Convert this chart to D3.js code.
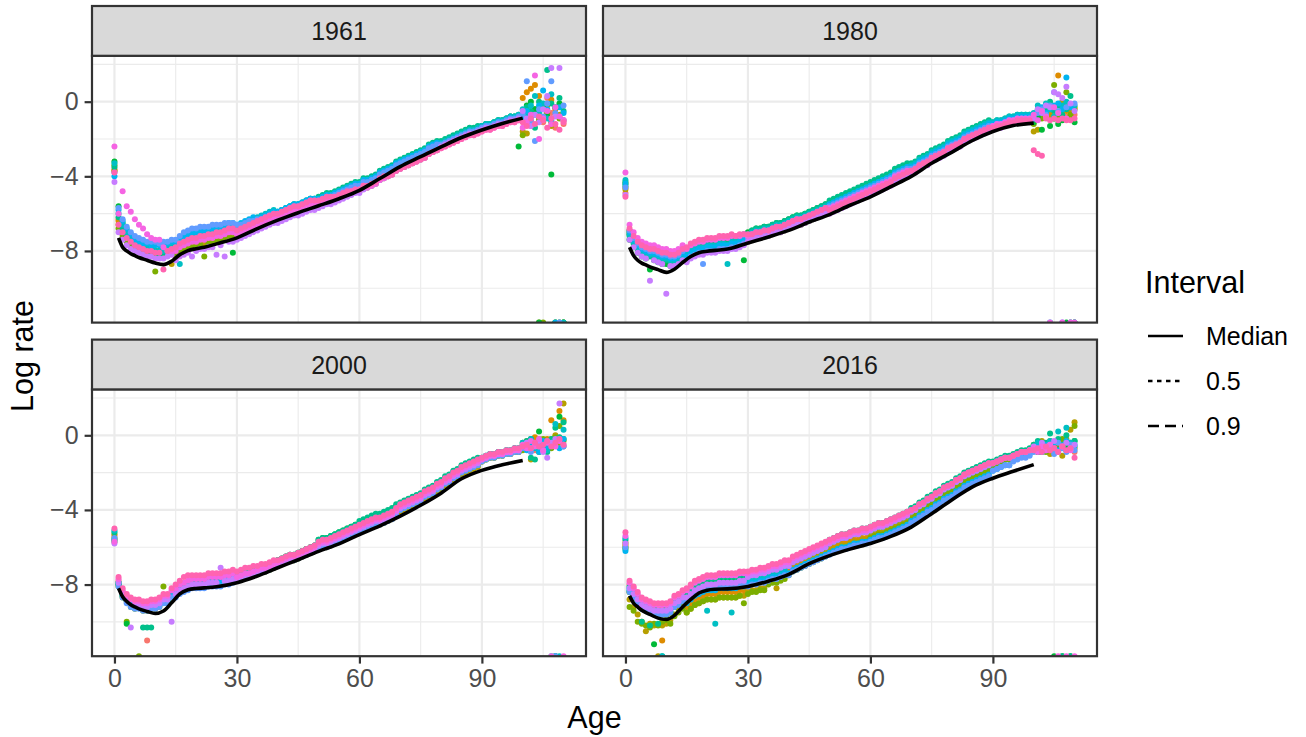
<!DOCTYPE html>
<html>
<head>
<meta charset="utf-8">
<script src="https://cdn.jsdelivr.net/npm/d3@7"></script>
<style>
  body { margin: 0; background: #fff; }
  svg text { font-family: "Liberation Sans", Arial, Helvetica, sans-serif; }
</style>
</head>
<body>
<svg id="chart"></svg>
<script>
// facets, ticks, legend
const years = ["1961", "1980", "2000", "2016"];
const ageTicks = [0, 30, 60, 90];
const rateTicks = [0, -4, -8];
const intervalLabels = ["Median", "0.5", "0.9"];

// median log rate at these ages
const medianAges = [1,2,3,4,5,6,8,10,12,14,16,18,20,22,25,30,35,40,45,50,55,60,65,70,75,80,85,90,95,100];
const median1961 = [-7.3,-7.8,-8.0,-8.15,-8.25,-8.35,-8.5,-8.65,-8.73,-8.55,-8.2,-7.98,-7.88,-7.8,-7.62,-7.3,-6.8,-6.35,-5.95,-5.58,-5.2,-4.75,-4.12,-3.48,-2.95,-2.42,-1.92,-1.52,-1.17,-0.88];
const median1980 = [-7.8,-8.25,-8.5,-8.65,-8.75,-8.85,-9.0,-9.15,-8.98,-8.62,-8.3,-8.1,-8.02,-7.97,-7.9,-7.57,-7.25,-6.9,-6.45,-6.05,-5.55,-5.1,-4.55,-4.0,-3.3,-2.7,-2.08,-1.6,-1.28,-1.15];
const median2000 = [-8.2,-8.65,-8.9,-9.08,-9.2,-9.3,-9.44,-9.55,-9.42,-8.98,-8.5,-8.28,-8.21,-8.18,-8.12,-7.9,-7.54,-7.1,-6.67,-6.22,-5.82,-5.32,-4.85,-4.33,-3.75,-3.1,-2.33,-1.88,-1.58,-1.35];
const median2016 = [-8.6,-9.0,-9.2,-9.38,-9.5,-9.6,-9.8,-9.87,-9.65,-9.2,-8.8,-8.45,-8.3,-8.25,-8.23,-8.1,-7.82,-7.45,-6.88,-6.45,-6.1,-5.8,-5.42,-4.92,-4.2,-3.45,-2.76,-2.3,-1.93,-1.57];

// observed log rates, one string per population (12), ages 0..110,
// in tenths of a log unit; "|" only groups ages, "x" = zero rate (-Inf, sits on the panel edge)
const rates1961 = [
"-36 | -63 -68 -72 -74 -76 -77 -78 -79 -79 -80 -80 -80 -79 -78 | -80 -78 -77 -76 -75 -75 -74 -74 -73 -73 -72 -72 -71 -70 -70 | -71 -70 -69 -68 -67 -66 -65 -64 -63 -62 -62 -61 -60 -59 -58 -58 -57 -56 -55 -55 | -54 -53 -52 -52 -51 -50 -49 -48 -47 -46 -46 -44 | -44 -43 -42 -40 -39 -38 -37 -35 -34 -33 -32 -31 -30 -29 -28 -26 -25 -24 | -24 -23 -22 -21 -20 -19 -18 -17 -17 -16 -15 -14 -14 -13 -12 -12 -11 -10 -10 -9 | -10 -7 -13 -5 -9 -11 2 -6 -14 -8 -12",
"-37 | -64 -69 -73 -75 -77 -78 -79 -80 -80 -81 -81 -81 -80 -79 | -81 -79 -78 -77 -76 -76 -75 -75 -74 -74 -73 -73 -72 -71 -71 | -71 -70 -69 -68 -67 -66 -65 -64 -63 -62 -62 -61 -60 -59 -58 -58 -57 -56 -55 -55 | -55 -54 -53 -53 -52 -51 -50 -49 -48 -47 -47 -45 | -45 -44 -43 -41 -40 -39 -38 -36 -35 -34 -33 -32 -31 -30 -29 -27 -26 -25 | -24 -23 -22 -21 -20 -19 -18 -17 -17 -16 -15 -14 -14 -13 -12 -12 -11 -10 -10 -9 | 2 5 7 9 3 -2 -6 1 -4 x x",
"-37 | -66 -71 -74 -76 -78 -79 -80 -81 -81 -82 -82 -82 -81 -87 | -82 -80 -79 -78 -77 -77 -76 -76 -75 -75 -74 -74 -73 -72 -72 | -72 -71 -70 -69 -68 -67 -66 -65 -64 -63 -63 -62 -61 -60 -59 -59 -58 -57 -56 -56 | -55 -54 -53 -53 -52 -51 -50 -49 -48 -47 -47 -45 | -45 -44 -43 -41 -40 -39 -38 -36 -35 -34 -33 -32 -31 -30 -29 -27 -26 -25 | -24 -23 -22 -21 -20 -19 -18 -17 -17 -16 -15 -14 -14 -13 -12 -12 -11 -10 -10 -9 | -16 -17 -11 -6 x -9 -2 -13 x -7 -10",
"-34 | -68 -72 -75 -77 -79 -80 -81 -82 -82 -91 -83 -83 -82 -81 | -83 -81 -80 -79 -78 -78 -77 -83 -76 -76 -75 -75 -74 -73 -73 | -73 -72 -71 -70 -69 -68 -67 -66 -65 -64 -64 -63 -62 -61 -60 -60 -59 -58 -57 -57 | -56 -55 -54 -54 -53 -52 -51 -50 -49 -48 -48 -46 | -46 -45 -44 -42 -41 -40 -39 -37 -36 -35 -34 -33 -32 -31 -30 -28 -27 -26 | -24 -23 -22 -21 -20 -19 -18 -17 -17 -16 -15 -14 -14 -13 -12 -12 -11 -10 -10 -9 | -18 -12 -8 -4 -10 x -6 -11 -3 -9 x",
"-32 | -56 -65 -69 -72 -75 -76 -77 -78 -79 -80 -80 -79 -79 -78 | -79 -77 -76 -75 -74 -74 -73 -73 -72 -72 -71 -71 -70 -69 -81 | -69 -68 -67 -66 -65 -64 -63 -62 -61 -60 -60 -59 -58 -57 -56 -56 -55 -54 -53 -53 | -52 -51 -50 -50 -49 -48 -47 -46 -45 -44 -44 -42 | -42 -41 -40 -38 -37 -36 -35 -33 -32 -31 -30 -29 -28 -27 -26 -24 -23 -22 | -22 -21 -20 -19 -18 -17 -16 -15 -15 -14 -13 -12 -12 -11 -10 -10 -9 -8 -8 -24 | -6 -2 0 -4 x -3 -8 -39 x -1 x",
"-35 | -62 -68 -72 -75 -77 -79 -80 -80 -81 -81 -82 -81 -80 -79 | -79 -77 -76 -75 -74 -74 -73 -73 -72 -72 -71 -71 -70 -69 -69 | -68 -67 -66 -65 -64 -63 -62 -61 -60 -59 -59 -58 -57 -56 -55 -55 -54 -53 -52 -52 | -51 -50 -49 -49 -48 -47 -46 -45 -44 -43 -43 -41 | -41 -40 -39 -37 -36 -35 -34 -32 -31 -30 -29 -28 -27 -26 -25 -23 -22 -21 | -21 -20 -19 -18 -17 -16 -15 -14 -14 -13 -13 -12 -12 -11 -10 -10 -9 -8 -8 -7 | -6 -3 -5 -14 0 -4 17 -1 -3 2 -5",
"-33 | -60 -66 -70 -73 -76 -77 -78 -79 -79 -80 -80 -80 -79 -78 | -77 -87 -74 -73 -72 -72 -71 -71 -70 -70 -69 -69 -68 -67 -67 | -67 -66 -65 -64 -63 -62 -61 -60 -59 -58 -59 -58 -57 -56 -55 -55 -54 -53 -52 -52 | -52 -51 -50 -50 -49 -48 -47 -46 -45 -44 -44 -42 | -42 -41 -40 -38 -37 -36 -35 -33 -32 -31 -30 -29 -28 -27 -26 -24 -23 -22 | -22 -21 -20 -19 -18 -17 -16 -15 -15 -14 -13 -12 -12 -11 -10 -10 -9 -8 -8 -7 | -4 -8 -2 3 -6 -1 -9 4 -3 x x",
"-40 | -58 -64 -68 -71 -74 -75 -76 -76 -77 -77 -77 -77 -76 -75 | -75 -73 -72 -71 -70 -70 -69 -69 -68 -68 -67 -67 -66 -65 -65 | -66 -65 -64 -63 -62 -63 -62 -61 -60 -59 -59 -58 -57 -56 -55 -55 -54 -53 -52 -52 | -52 -51 -50 -50 -49 -48 -47 -46 -45 -44 -44 -42 | -42 -41 -40 -38 -37 -36 -35 -33 -32 -31 -30 -29 -28 -27 -26 -24 -23 -22 | -23 -22 -21 -20 -19 -18 -17 -16 -16 -15 -14 -13 -13 -12 -11 -11 -10 -9 -9 -8 | -9 -5 -12 -7 -2 6 -4 -10 x -3 -6",
"-38 | -57 -63 -67 -70 -72 -73 -74 -75 -75 -75 -76 -75 -75 -74 | -74 -72 -70 -69 -68 -68 -67 -67 -67 -66 -66 -66 -65 -65 -65 | -66 -66 -65 -64 -64 -63 -63 -62 -61 -60 -60 -59 -58 -57 -56 -56 -55 -54 -53 -53 | -53 -52 -51 -51 -50 -49 -48 -47 -46 -45 -45 -43 | -43 -42 -41 -39 -38 -37 -36 -34 -33 -32 -31 -30 -29 -28 -27 -25 -24 -23 | -23 -22 -21 -20 -19 -18 -17 -16 -16 -15 -14 -13 -13 -12 -11 -11 -10 -9 -9 -8 | -7 11 -10 -21 -4 -8 -1 11 -6 x -2",
"-43 | -70 -74 -77 -79 -80 -81 -82 -83 -83 -84 -84 -84 -83 -82 | -85 -83 -82 -81 -83 -80 -79 -79 -78 -78 -82 -77 -83 -75 -75 | -74 -73 -72 -71 -70 -69 -68 -67 -66 -65 -65 -64 -63 -62 -61 -61 -60 -59 -58 -58 | -57 -56 -55 -55 -54 -53 -52 -51 -50 -49 -49 -47 | -46 -45 -44 -42 -41 -40 -39 -37 -36 -35 -34 -33 -32 -31 -30 -28 -27 -26 | -24 -23 -22 -21 -20 -19 -18 -17 -17 -16 -15 -14 -14 -13 -12 -12 -11 -10 -10 -9 | -5 -9 -13 -7 -11 -4 3 18 -8 18 -10",
"-24 | -60 -48 -56 -59 -63 -66 -68 -71 -73 -74 -74 -78 -80 -80 | -80 -78 -77 -76 -75 -75 -74 -74 -73 -73 -72 -72 -71 -70 -70 | -71 -70 -69 -68 -67 -66 -65 -64 -63 -62 -62 -61 -60 -59 -58 -58 -57 -56 -55 -55 | -55 -54 -53 -53 -52 -51 -50 -49 -48 -47 -47 -45 | -46 -45 -44 -42 -41 -40 -39 -37 -36 -35 -34 -33 -32 -31 -30 -28 -27 -26 | -25 -24 -23 -22 -21 -20 -19 -18 -18 -17 -16 -15 -15 -14 -13 -13 -12 -11 -11 -10 | -14 -11 -7 14 -20 -9 -5 -12 -3 -8 -10",
"-38 | -66 -70 -73 -75 -77 -78 -79 -80 -80 -81 -81 -90 -80 -79 | -78 -76 -75 -74 -73 -73 -72 -72 -71 -71 -70 -70 -69 -68 -68 | -69 -68 -67 -66 -65 -64 -63 -62 -61 -60 -60 -59 -58 -57 -56 -56 -55 -54 -53 -53 | -53 -52 -51 -51 -51 -50 -49 -48 -48 -47 -47 -45 | -45 -44 -43 -41 -40 -40 -39 -37 -36 -35 -34 -33 -32 -31 -30 -28 -27 -26 | -25 -24 -23 -22 -21 -20 -19 -18 -18 -17 -16 -15 -15 -14 -13 -13 -12 -11 -11 -10 | -11 -13 -9 -12 -8 -10 -14 -9 -12 -15 -11"
];

const rates1980 = [
"-49 | -69 -73 -75 -78 -78 -80 -79 -81 -81 -82 -82 -83 -81 -80 | -82 -80 -79 -78 -78 -77 -77 -77 -76 -76 -76 -75 -75 -74 -73 | -73 -72 -71 -71 -70 -70 -69 -68 -68 -67 -66 -65 -64 -64 -63 -62 -61 -60 -59 -58 | -57 -56 -55 -54 -53 -52 -51 -50 -49 -48 -47 -46 -45 -44 -43 -42 -40 -39 -38 -37 | -36 -35 -33 -32 -31 -29 -28 -27 -26 -24 -23 -22 -21 -19 -18 -17 -16 -15 -14 -13 | -13 -12 -12 -11 -10 -10 -9 -9 -9 -9 | -10 -6 -8 -5 -7 -9 -6 -4 -8 -5 -7",
"-46 | -69 -73 -76 -78 -79 -80 -80 -81 -82 -82 -83 -83 -82 -80 | -83 -81 -80 -79 -79 -78 -78 -78 -77 -77 -77 -76 -76 -75 -74 | -73 -72 -71 -71 -70 -70 -69 -68 -68 -67 -66 -65 -64 -64 -63 -62 -61 -60 -59 -58 | -58 -57 -56 -55 -54 -53 -52 -51 -50 -49 -48 -47 -46 -45 -44 -43 -41 -40 -39 -38 | -37 -36 -34 -33 -32 -30 -29 -28 -27 -25 -24 -23 -22 -20 -19 -18 -17 -16 -15 -14 | -13 -12 -12 -11 -10 -10 -9 -9 -9 -9 | -8 -5 -7 -3 -6 -4 14 -2 -5 -8 x",
"-47 | -70 -74 -77 -79 -80 -81 -81 -82 -83 -83 -84 -84 -83 -81 | -84 -82 -81 -80 -80 -79 -79 -79 -78 -78 -78 -77 -77 -76 -75 | -74 -73 -72 -72 -71 -71 -70 -69 -69 -68 -67 -66 -65 -65 -64 -63 -62 -61 -60 -59 | -59 -58 -57 -56 -55 -54 -53 -52 -51 -50 -49 -48 -47 -46 -45 -44 -42 -41 -40 -39 | -38 -37 -35 -34 -33 -31 -30 -29 -28 -26 -25 -24 -23 -21 -20 -19 -18 -17 -16 -15 | -14 -13 -13 -12 -11 -11 -10 -10 -10 -10 | -16 -15 -5 -3 -8 -4 -6 0 -2 -5 -3",
"-44 | -71 -75 -78 -80 -81 -82 -82 -83 -84 -84 -85 -85 -84 -82 | -85 -83 -82 -81 -81 -80 -80 -80 -79 -79 -79 -78 -78 -77 -76 | -75 -74 -73 -73 -72 -72 -71 -70 -70 -69 -68 -67 -66 -66 -65 -64 -63 -62 -61 -60 | -59 -58 -57 -56 -55 -54 -53 -52 -51 -50 -49 -48 -47 -46 -45 -44 -42 -41 -40 -39 | -38 -37 -35 -34 -33 -31 -30 -29 -28 -26 -25 -24 -23 -21 -20 -19 -18 -17 -16 -15 | -14 -13 -13 -12 -11 -11 -10 -10 -10 -10 | -12 -5 -9 -4 -2 9 -8 -3 5 -7 -4",
"-43 | -74 -78 -81 -83 -84 -90 -85 -86 -87 -87 -88 -88 -87 -85 | -80 -78 -77 -76 -76 -75 -75 -75 -74 -74 -74 -73 -73 -72 -85 | -70 -69 -68 -68 -67 -67 -66 -65 -65 -64 -63 -62 -61 -61 -60 -59 -58 -57 -56 -55 | -54 -53 -52 -51 -50 -49 -48 -47 -46 -45 -44 -43 -42 -41 -40 -39 -37 -36 -35 -34 | -35 -34 -32 -31 -30 -28 -27 -26 -25 -23 -22 -21 -20 -18 -17 -16 -15 -14 -13 -12 | -12 -11 -11 -10 -9 -9 -8 -8 -8 -8 | -11 -8 -15 -6 -13 -9 -12 -10 x x -11",
"-45 | -72 -76 -79 -81 -82 -83 -83 -84 -85 -85 -86 -86 -85 -83 | -82 -80 -79 -78 -78 -77 -77 -77 -76 -76 -76 -75 -74 -73 -71 | -71 -69 -68 -68 -67 -67 -66 -65 -65 -64 -63 -62 -61 -61 -60 -59 -58 -57 -56 -55 | -53 -52 -51 -50 -49 -48 -47 -46 -45 -44 -43 -42 -41 -40 -39 -38 -36 -35 -34 -33 | -33 -32 -30 -29 -28 -26 -25 -24 -23 -21 -20 -19 -18 -16 -15 -14 -13 -12 -11 -10 | -11 -10 -10 -9 -8 -8 -7 -7 -7 -7 | -8 -4 -6 -3 0 -5 -2 -7 -4 3 x",
"-42 | -71 -75 -78 -80 -81 -82 -82 -83 -84 -84 -85 -85 -84 -82 | -82 -80 -79 -78 -78 -77 -77 -77 -76 -76 -87 -75 -75 -74 -73 | -71 -70 -69 -69 -68 -68 -67 -66 -66 -65 -64 -63 -62 -62 -61 -60 -59 -58 -57 -56 | -55 -54 -53 -52 -51 -50 -49 -48 -47 -46 -45 -44 -43 -42 -41 -40 -38 -37 -36 -35 | -34 -33 -31 -30 -29 -27 -26 -25 -24 -22 -21 -20 -19 -17 -16 -15 -14 -13 -12 -11 | -11 -10 -10 -9 -8 -8 -7 -7 -7 -7 | -6 -2 -5 -1 -4 -8 -6 -2 0 -3 -2",
"-44 | -70 -74 -77 -79 -80 -81 -81 -82 -83 -83 -84 -84 -83 -81 | -83 -81 -80 -79 -79 -78 -78 -78 -77 -77 -77 -76 -76 -75 -74 | -72 -71 -70 -70 -69 -69 -68 -67 -67 -66 -65 -64 -63 -63 -62 -61 -60 -59 -58 -57 | -55 -54 -53 -52 -51 -50 -49 -48 -47 -46 -45 -44 -43 -42 -41 -40 -38 -37 -36 -35 | -35 -34 -32 -31 -30 -28 -27 -26 -25 -23 -22 -21 -20 -18 -17 -16 -15 -14 -13 -12 | -12 -11 -11 -10 -9 -9 -8 -8 -8 -8 | -7 -5 -3 -6 x -2 -1 -4 13 -3 x",
"-46 | -69 -73 -76 -78 -79 -80 -80 -81 -82 -82 -83 -83 -82 -80 | -85 -83 -82 -81 -87 -80 -80 -80 -79 -79 -79 -78 -78 -77 -76 | -73 -72 -71 -71 -70 -70 -69 -68 -68 -67 -66 -65 -64 -64 -63 -62 -61 -60 -59 -58 | -56 -55 -54 -53 -52 -51 -50 -49 -48 -47 -46 -45 -44 -43 -42 -41 -39 -38 -37 -36 | -36 -35 -33 -32 -31 -29 -28 -27 -26 -24 -23 -22 -21 -19 -18 -17 -16 -15 -14 -13 | -13 -12 -12 -11 -10 -10 -9 -9 -9 -9 | -9 -6 -4 -7 -2 5 -5 x -3 x -1",
"-50 | -74 -78 -81 -83 -84 -96 -85 -86 -87 -103 -88 -88 -87 -85 | -86 -84 -83 -82 -82 -81 -81 -81 -80 -80 -80 -79 -79 -78 -77 | -75 -74 -73 -73 -72 -72 -71 -70 -70 -69 -68 -67 -66 -66 -65 -64 -63 -62 -61 -60 | -60 -59 -58 -57 -56 -55 -54 -53 -52 -51 -50 -49 -48 -47 -46 -45 -43 -42 -41 -40 | -39 -38 -36 -35 -34 -32 -31 -30 -29 -27 -26 -25 -24 -22 -21 -20 -19 -18 -17 -16 | -15 -14 -14 -13 -12 -12 -11 -11 -11 -11 | -9 -4 -6 -2 -3 5 4 2 8 -1 -5",
"-38 | -66 -70 -73 -75 -76 -77 -77 -78 -79 -79 -80 -80 -79 -77 | -79 -77 -76 -75 -75 -74 -74 -74 -73 -73 -73 -72 -72 -72 -71 | -72 -71 -70 -70 -69 -69 -68 -67 -67 -66 -65 -64 -63 -63 -62 -61 -60 -59 -58 -57 | -57 -56 -55 -54 -53 -52 -51 -50 -49 -48 -47 -46 -45 -44 -43 -42 -40 -39 -38 -37 | -37 -36 -34 -33 -32 -30 -29 -28 -27 -25 -24 -23 -22 -20 -19 -18 -17 -16 -15 -14 | -13 -12 -12 -11 -10 -10 -9 -9 -9 -9 | -7 -10 -5 -8 x -3 -6 x -9 x x",
"-51 | -68 -72 -75 -77 -78 -79 -79 -80 -81 -81 -82 -82 -81 -79 | -78 -76 -75 -74 -74 -73 -73 -73 -72 -72 -72 -71 -72 -71 -71 | -71 -71 -70 -70 -69 -69 -68 -67 -67 -66 -65 -64 -63 -63 -62 -61 -60 -59 -58 -57 | -58 -57 -56 -55 -54 -53 -52 -51 -50 -49 -48 -47 -46 -45 -44 -43 -41 -40 -39 -38 | -37 -36 -34 -33 -32 -30 -29 -28 -27 -25 -24 -23 -22 -20 -19 -18 -17 -16 -15 -14 | -14 -13 -13 -12 -11 -11 -10 -10 -10 -10 | -26 -28 -29 -9 -10 -9 -10 -9 -10 -10 -9"
];

const rates2000 = [
"-54 | -78 -84 -87 -89 -90 -90 -91 -110 -90 -90 -89 -87 -87 -84 | -84 -82 -81 -80 -79 -79 -79 -79 -78 -78 -78 -78 -77 -77 -76 | -76 -75 -74 -74 -73 -72 -71 -71 -70 -69 -68 -67 -66 -65 -65 -64 -63 -62 -61 -60 | -58 -57 -57 -56 -55 -54 -53 -52 -51 -50 -49 -48 -47 -46 -45 -45 -44 -43 -42 -40 | -38 -37 -36 -35 -34 -33 -31 -30 -29 -27 -26 -24 -23 -21 -20 -18 -17 -16 -15 -14 | -13 -12 -11 -11 -10 -10 -9 -9 -8 -8 | -6 -4 -5 -8 -3 -5 -7 -2 x -4 -6",
"-56 | -79 -85 -88 -90 -91 -91 -92 -92 -91 -91 -90 -88 -88 -85 | -85 -83 -82 -81 -80 -80 -80 -80 -79 -79 -79 -79 -78 -78 -77 | -77 -76 -75 -75 -74 -73 -72 -72 -71 -70 -69 -68 -67 -66 -66 -65 -64 -63 -62 -61 | -59 -58 -58 -57 -56 -55 -54 -53 -52 -51 -50 -49 -48 -47 -46 -46 -45 -44 -43 -41 | -39 -38 -37 -36 -35 -34 -32 -31 -30 -28 -27 -25 -24 -22 -21 -19 -18 -17 -16 -15 | -13 -12 -11 -11 -10 -10 -9 -9 -8 -8 | -5 -3 -7 -1 -4 -6 -2 8 -5 13 8",
"-53 | -80 -86 -89 -91 -92 -92 -93 -93 -92 -92 -91 -89 -89 -86 | -86 -84 -83 -82 -81 -81 -81 -81 -80 -80 -80 -80 -79 -79 -78 | -78 -77 -76 -76 -75 -74 -73 -73 -72 -71 -70 -69 -68 -67 -67 -66 -65 -64 -63 -62 | -61 -60 -60 -59 -58 -57 -56 -55 -54 -53 -52 -51 -50 -49 -48 -48 -47 -46 -45 -43 | -41 -40 -39 -38 -37 -36 -34 -33 -32 -30 -29 -27 -26 -24 -23 -21 -20 -19 -18 -17 | -14 -13 -12 -12 -11 -11 -10 -10 -9 -9 | -7 -4 -13 -6 -2 -8 -3 -5 0 -4 17",
"-55 | -81 -87 -100 -92 -93 x -94 -94 -93 -93 -92 -81 -90 -87 | -86 -84 -83 -82 -81 -81 -81 -81 -80 -80 -80 -80 -79 -79 -78 | -78 -77 -76 -76 -75 -74 -73 -73 -72 -71 -70 -69 -68 -67 -67 -66 -65 -64 -63 -62 | -60 -59 -59 -58 -57 -56 -55 -54 -53 -52 -51 -50 -49 -48 -47 -47 -46 -45 -44 -42 | -40 -39 -38 -37 -36 -35 -33 -32 -31 -29 -28 -26 -25 -23 -22 -20 -19 -18 -17 -16 | -14 -13 -12 -12 -11 -11 -10 -10 -9 -9 | -8 -5 -3 -6 -9 -2 -4 -7 -1 5 -3",
"-57 | -80 -86 -101 -91 -92 -92 -93 -93 -92 -92 -91 -89 -89 -86 | -83 -81 -80 -79 -78 -78 -78 -78 -77 -77 -77 -77 -76 -76 -75 | -75 -74 -73 -73 -72 -71 -70 -70 -69 -68 -67 -66 -65 -64 -64 -63 -62 -61 -60 -59 | -56 -55 -55 -54 -53 -52 -51 -50 -49 -48 -47 -46 -45 -44 -43 -43 -42 -41 -40 -38 | -37 -36 -35 -34 -33 -32 -30 -29 -28 -26 -25 -23 -22 -20 -19 -17 -16 -15 -14 -13 | -13 -12 -11 -11 -10 -10 -9 -9 -8 -8 | -4 -7 -2 -5 2 -8 -3 -6 x 10 -2",
"-52 | -79 -85 -88 -90 -91 -91 -103 -103 -103 -91 -90 -88 -88 -85 | -83 -81 -80 -79 -78 -78 -78 -78 -77 -77 -77 -77 -76 -76 -75 | -75 -74 -73 -73 -72 -71 -70 -70 -69 -68 -67 -66 -65 -64 -64 -63 -62 -61 -60 -59 | -56 -55 -55 -54 -53 -52 -51 -50 -49 -48 -46 -45 -44 -43 -42 -42 -41 -40 -39 -37 | -36 -35 -34 -33 -32 -31 -29 -28 -27 -25 -24 -22 -21 -19 -18 -16 -15 -14 -13 -12 | -12 -11 -10 -10 -9 -9 -8 -8 -7 -7 | -5 -3 -12 -13 -6 -4 -9 -2 4 -1 7",
"-51 | -79 -85 -88 -90 -91 -91 -92 -92 -91 -91 -90 -88 -88 -85 | -84 -82 -81 -80 -79 -79 -79 -79 -78 -78 -78 -78 -77 -77 -76 | -76 -75 -74 -74 -73 -72 -71 -71 -70 -69 -68 -67 -66 -65 -65 -64 -63 -62 -61 -60 | -57 -56 -56 -55 -54 -53 -52 -51 -50 -49 -48 -47 -46 -45 -44 -44 -43 -42 -41 -39 | -37 -36 -35 -34 -33 -32 -30 -29 -28 -26 -25 -23 -22 -20 -19 -17 -16 -15 -14 -13 | -12 -11 -10 -10 -9 -9 -8 -8 -7 -7 | -4 -6 -2 -7 -3 -5 -8 x 6 x 3",
"-56 | -80 -86 -89 -91 -92 -92 -93 -93 -92 -92 -91 -89 -89 -86 | -85 -83 -82 -81 -80 -80 -80 -80 -79 -79 -79 -79 -78 -78 -77 | -77 -76 -75 -75 -74 -73 -72 -72 -71 -70 -69 -68 -67 -66 -66 -65 -64 -63 -62 -61 | -58 -57 -57 -56 -55 -54 -53 -52 -51 -50 -49 -48 -47 -46 -45 -45 -44 -43 -42 -40 | -38 -37 -36 -35 -34 -33 -31 -30 -29 -27 -26 -24 -23 -21 -20 -18 -17 -16 -15 -14 | -13 -12 -11 -11 -10 -10 -9 -9 -8 -8 | -6 -8 -4 -5 -9 -3 -6 -4 x -7 -2",
"-55 | -81 -87 -90 -92 -93 -93 -94 -94 -93 -93 -92 -90 -90 -87 | -87 -85 -84 -83 -82 -82 -82 -82 -81 -81 -81 -81 -80 -80 -79 | -78 -77 -76 -76 -75 -74 -73 -73 -72 -71 -70 -69 -68 -67 -67 -66 -65 -64 -63 -62 | -61 -60 -60 -59 -58 -57 -56 -55 -54 -53 -52 -51 -50 -49 -48 -48 -47 -46 -45 -43 | -40 -39 -38 -37 -36 -35 -33 -32 -31 -29 -28 -26 -25 -23 -22 -20 -19 -18 -17 -16 | -14 -13 -12 -12 -11 -11 -10 -10 -9 -9 | -7 -5 -9 -4 -6 -8 -3 -5 x -2 -6",
"-58 | -79 -85 -88 -103 -91 -91 -92 -92 -91 -91 -90 -88 -88 -100 | -85 -83 -82 -81 -80 -80 -80 -80 -79 -79 -79 -71 -78 -78 -77 | -77 -76 -75 -75 -74 -73 -72 -72 -71 -70 -69 -68 -67 -66 -66 -65 -64 -63 -62 -61 | -59 -58 -58 -57 -56 -55 -54 -53 -52 -51 -50 -49 -48 -47 -46 -46 -45 -44 -43 -41 | -39 -38 -37 -36 -35 -34 -32 -31 -30 -28 -27 -25 -24 -22 -21 -19 -18 -17 -16 -15 | -13 -12 -11 -11 -10 -10 -9 -9 -8 -8 | -6 -4 -7 -5 -3 -9 -12 -4 -2 17 -5",
"-57 | -77 -83 -86 -88 -89 -89 -90 -90 -89 -89 -88 -86 -86 -83 | -82 -80 -79 -78 -77 -77 -77 -77 -76 -76 -76 -76 -75 -75 -74 | -76 -75 -74 -74 -73 -72 -71 -71 -70 -69 -68 -67 -66 -65 -65 -64 -63 -62 -61 -60 | -58 -57 -57 -56 -55 -54 -53 -52 -51 -50 -49 -48 -47 -46 -45 -45 -44 -43 -42 -40 | -38 -37 -36 -35 -34 -33 -31 -30 -29 -27 -26 -24 -23 -21 -20 -18 -17 -16 -15 -14 | -13 -12 -11 -11 -10 -10 -9 -9 -8 -8 | -5 -7 -3 -6 -2 -8 -4 x -6 -3 x",
"-50 | -76 -82 -85 -87 -88 -88 -89 -89 -88 -88 -87 -85 -85 -82 | -80 -78 -76 -75 -75 -75 -75 -75 -74 -74 -74 -74 -73 -73 -72 | -73 -72 -71 -71 -70 -70 -69 -69 -68 -67 -67 -66 -65 -64 -64 -63 -62 -61 -60 -59 | -57 -56 -56 -55 -54 -53 -52 -51 -50 -49 -48 -47 -46 -45 -44 -44 -43 -42 -41 -39 | -37 -36 -35 -34 -33 -32 -30 -29 -28 -26 -25 -23 -22 -20 -19 -17 -16 -15 -14 -13 | -12 -11 -10 -10 -9 -9 -8 -8 -7 -7 | -6 -5 -7 -4 -6 -5 -3 -6 -4 -2 -5"
];

const rates2016 = [
"-57 | -80 -83 -86 -89 -90 -91 -92 -92 -92 -92 -91 -88 -87 -85 | -86 -84 -82 -81 -80 -79 -79 -79 -78 -78 -78 -78 -78 -77 -77 | -76 -75 -75 -74 -74 -73 -72 -72 -71 -70 -70 -68 -67 -66 -65 -64 -63 -62 -61 -60 | -58 -57 -56 -55 -55 -54 -53 -53 -52 -52 -51 -50 -49 -49 -48 -47 -46 -45 -44 -43 | -41 -40 -38 -37 -35 -34 -32 -31 -29 -28 -27 -25 -24 -22 -21 -20 -19 -18 -17 -16 | -15 -14 -13 -12 -12 -11 -10 -9 -9 -8 | -7 -5 -8 -6 -9 -4 -7 -5 -8 -6 -9",
"-59 | -84 -87 -90 -93 -94 -95 -96 -96 -110 -96 -95 -92 -91 -89 | -92 -90 -88 -87 -86 -85 -85 -85 -84 -84 -84 -84 -84 -83 -83 | -81 -80 -80 -79 -79 -78 -77 -77 -76 -75 -73 -71 -70 -69 -68 -67 -66 -65 -64 -63 | -61 -60 -59 -58 -58 -57 -56 -56 -55 -55 -54 -53 -52 -52 -51 -50 -49 -48 -47 -46 | -44 -43 -40 -39 -37 -36 -34 -33 -31 -30 -29 -27 -26 -24 -23 -22 -21 -20 -19 -18 | -16 -15 -14 -13 -13 -12 -11 -10 -10 -9 | -6 -8 -5 -7 -4 -9 -6 -3 -8 -5 -7",
"-58 | -88 -92 -96 -100 -105 -101 -102 x -102 -101 -99 -96 -93 -91 | -95 -93 -91 -90 -89 -88 -88 -88 -87 -87 -87 -87 -87 -86 -86 | -84 -83 -83 -82 -82 -79 -78 -82 -77 -76 -74 -72 -71 -70 -69 -67 -66 -65 -64 -63 | -62 -61 -60 -59 -59 -58 -57 -57 -56 -56 -54 -53 -52 -52 -51 -50 -49 -48 -47 -46 | -44 -43 -41 -40 -38 -37 -35 -34 -32 -31 -30 -28 -27 -25 -24 -23 -22 -21 -20 -19 | -16 -15 -14 -13 -13 -12 -11 -10 -10 -9 | -5 -9 -3 -7 -10 -6 -4 -11 -2 3 7",
"-60 | -92 -94 -100 -101 -102 -103 -101 -102 -100 -99 -101 -97 -95 -93 | -95 -93 -91 -90 -89 -88 -88 -88 -87 -87 -87 -87 -87 -86 -90 | -85 -84 -84 -83 -83 -80 -79 -79 -78 -77 -75 -73 -72 -71 -70 -69 -68 -67 -66 -65 | -63 -62 -61 -60 -60 -59 -58 -58 -57 -57 -55 -54 -53 -53 -52 -51 -50 -49 -48 -47 | -45 -43 -41 -40 -38 -37 -35 -34 -32 -31 -30 -28 -27 -25 -24 -23 -22 -21 -20 -19 | -16 -15 -14 -13 -13 -12 -11 -10 -10 -9 | -8 -4 -6 -9 -3 -7 -5 -2 -6 -4 5",
"-61 | -84 -87 -90 -93 -94 -95 -112 -96 -96 -96 -95 -92 -91 -89 | -85 -83 -81 -80 -79 -78 -78 -78 -77 -77 -77 -77 -77 -76 -76 | -75 -74 -74 -73 -73 -72 -71 -71 -70 -69 -69 -67 -66 -65 -64 -63 -62 -61 -60 -59 | -57 -56 -55 -54 -54 -53 -52 -52 -51 -51 -50 -49 -48 -48 -47 -46 -45 -44 -43 -42 | -40 -39 -37 -36 -34 -33 -31 -30 -28 -27 -26 -24 -23 -21 -20 -19 -18 -17 -16 -15 | -15 -14 -13 -12 -12 -11 -10 -9 -9 -8 | -6 -9 -4 -7 -5 x -8 x -6 x -3",
"-56 | -81 -84 -87 -100 -91 -102 -93 -101 x -93 -92 -89 -88 -86 | -84 -82 -80 -79 -78 -77 -77 -77 -76 -76 -76 -76 -76 -75 -75 | -74 -73 -73 -72 -72 -71 -70 -70 -69 -68 -68 -66 -65 -64 -63 -62 -61 -60 -59 -58 | -56 -55 -54 -53 -53 -52 -51 -51 -50 -50 -49 -48 -47 -47 -46 -45 -44 -43 -42 -41 | -39 -38 -36 -35 -33 -32 -30 -29 -27 -26 -25 -23 -22 -20 -19 -18 -17 -16 -15 -14 | -14 -13 -12 -11 -11 -10 -9 -8 -8 -7 | -5 -3 -6 -4 1 -7 -2 x 0 x -3",
"-55 | -82 -85 -88 -91 -92 -93 -94 -94 x -94 -93 -90 -89 -87 | -88 -86 -84 -83 -82 -94 -81 -101 -80 -80 -80 -95 -80 -79 -79 | -78 -77 -77 -76 -76 -75 -74 -74 -73 -72 -70 -68 -67 -66 -65 -64 -63 -62 -61 -60 | -58 -57 -56 -55 -55 -54 -53 -53 -52 -52 -51 -50 -49 -49 -48 -47 -46 -45 -44 -43 | -41 -40 -38 -37 -35 -34 -32 -31 -29 -28 -27 -25 -24 -22 -21 -20 -19 -18 -17 -16 | -15 -14 -13 -12 -12 -11 -10 -9 -9 -8 | -7 -4 -9 -6 -3 -8 2 -5 4 -4 -6",
"-62 | -83 -86 -89 -92 -93 -94 -95 -95 -95 -95 -94 -91 -90 -88 | -90 -88 -86 -85 -84 -83 -83 -83 -82 -82 -82 -82 -82 -81 -81 | -80 -79 -79 -78 -78 -77 -76 -76 -75 -74 -74 -72 -71 -70 -69 -68 -67 -66 -65 -64 | -63 -62 -61 -60 -60 -59 -58 -58 -57 -57 -56 -55 -54 -54 -53 -52 -51 -50 -49 -48 | -46 -45 -43 -42 -40 -39 -37 -36 -34 -33 -32 -30 -29 -27 -26 -25 -24 -23 -22 -21 | -19 -18 -17 -16 -16 -13 -12 -11 -11 -10 | -8 -6 -9 -5 -7 -4 -8 -6 -3 -7 -5",
"-60 | -84 -87 -90 -93 -94 -95 -96 -96 -96 -96 -95 -92 -91 -89 | -89 -87 -85 -84 -83 -82 -82 -82 -81 -81 -81 -81 -81 -80 -80 | -81 -80 -80 -79 -79 -78 -77 -77 -76 -75 -75 -73 -72 -71 -70 -69 -68 -67 -66 -65 | -64 -63 -62 -61 -61 -60 -59 -59 -58 -58 -57 -56 -55 -55 -54 -53 -52 -51 -50 -49 | -47 -46 -44 -43 -41 -40 -38 -37 -35 -34 -33 -31 -30 -28 -27 -26 -25 -24 -23 -22 | -19 -18 -17 -16 -16 -14 -13 -12 -12 -11 | -9 -7 -5 -8 -6 -10 -4 -7 -9 -5 -8",
"-58 | -82 -85 -88 -91 -92 -93 -94 -94 -94 -94 -93 -90 -89 -87 | -87 -85 -83 -82 -81 -80 -80 -80 -79 -79 -79 -79 -79 -78 -78 | -76 -75 -75 -74 -74 -73 -72 -72 -71 -70 -70 -68 -67 -66 -65 -64 -63 -62 -61 -60 | -58 -57 -56 -55 -55 -54 -53 -53 -52 -52 -51 -50 -49 -49 -48 -47 -46 -45 -44 -43 | -41 -40 -38 -37 -35 -34 -32 -31 -29 -28 -27 -25 -24 -22 -21 -20 -19 -18 -17 -16 | -15 -14 -13 -12 -12 -11 -10 -9 -9 -8 | -6 -8 -4 -7 -5 -3 -9 -6 -4 -7 -5",
"-54 | -79 -82 -85 -88 -89 -90 -91 -91 -91 -91 -90 -87 -86 -84 | -83 -81 -79 -78 -77 -76 -76 -76 -75 -75 -75 -75 -75 -74 -74 | -74 -73 -73 -72 -72 -71 -70 -70 -69 -68 -68 -66 -65 -64 -63 -62 -61 -60 -59 -58 | -57 -56 -55 -54 -54 -53 -52 -52 -51 -51 -50 -49 -48 -48 -47 -46 -45 -44 -43 -42 | -40 -39 -37 -36 -34 -33 -31 -30 -28 -27 -26 -24 -23 -21 -20 -19 -18 -17 -16 -15 | -15 -14 -13 -12 -12 -11 -10 -9 -9 -8 | -7 -9 -6 -8 -5 -7 x -6 x -8 x",
"-52 | -78 -81 -84 -87 -88 -89 -90 -90 -90 -90 -89 -86 -85 -83 | -82 -80 -78 -77 -76 -75 -75 -75 -74 -74 -74 -74 -74 -73 -73 | -73 -72 -72 -71 -71 -70 -69 -69 -68 -67 -67 -65 -64 -63 -62 -61 -60 -59 -58 -57 | -56 -55 -54 -53 -53 -52 -51 -51 -50 -50 -49 -48 -47 -47 -46 -45 -44 -43 -42 -41 | -40 -39 -37 -36 -34 -33 -31 -30 -28 -27 -26 -24 -23 -21 -20 -19 -18 -17 -16 -15 | -15 -14 -13 -12 -12 -11 -10 -9 -9 -8 | -8 -7 -9 -6 -8 -7 -9 -6 -8 -7 -12"
];

const ages = d3.range(0, 111);
const medians = [median1961, median1980, median2000, median2016];
const rates = [rates1961, rates1980, rates2000, rates2016];

// default ggplot hue palette for 12 groups
const popColour = d3.scaleOrdinal()
    .domain(d3.range(12))
    .range(["#F8766D","#DE8C00","#B79F00","#7CAE00","#00BA38","#00C08B",
            "#00BFC4","#00B4F0","#619CFF","#C77CFF","#F564E3","#FF64B0"]);

const parseRow = s => s.split(/[\s|]+/).filter(t => t.length)
    .map(t => t === "x" ? -Infinity : +t / 10);

const svg = d3.select("#chart")
    .attr("width", 1306)
    .attr("height", 737);

const colX = [92, 603], stripTop = [6, 339.6];
const panelW = 494, stripH = 49.8, panelH = 266.8;
const tickLen = 7.4;
const labelSize = "25px", titleSize = "30.5px";

const x = d3.scaleLinear().domain([-5.5, 115.5]).range([0, panelW]);
const y = d3.scaleLinear().domain([-11.84, 2.46]).range([panelH, 0]);

const minorAges = ageTicks.map(d => d + 15);
const minorRates = d3.range(-10, 3, 4);

const defs = svg.append("defs");

years.forEach((yr, i) => {
    const col = i % 2, row = Math.floor(i / 2);
    const px = colX[col], sy = stripTop[row], py = sy + stripH;

    const g = svg.append("g").attr("transform", `translate(${px},${py})`);

    // grid
    g.append("g").selectAll("line").data(minorAges).join("line")
        .attr("x1", d => x(d)).attr("x2", d => x(d))
        .attr("y1", 0).attr("y2", panelH)
        .attr("stroke", "#EBEBEB").attr("stroke-width", 1.1);
    g.append("g").selectAll("line").data(minorRates).join("line")
        .attr("x1", 0).attr("x2", panelW)
        .attr("y1", d => y(d)).attr("y2", d => y(d))
        .attr("stroke", "#EBEBEB").attr("stroke-width", 1.1);
    g.append("g").selectAll("line").data(ageTicks).join("line")
        .attr("x1", d => x(d)).attr("x2", d => x(d))
        .attr("y1", 0).attr("y2", panelH)
        .attr("stroke", "#EBEBEB").attr("stroke-width", 2.2);
    g.append("g").selectAll("line").data(rateTicks).join("line")
        .attr("x1", 0).attr("x2", panelW)
        .attr("y1", d => y(d)).attr("y2", d => y(d))
        .attr("stroke", "#EBEBEB").attr("stroke-width", 2.2);

    // points, clipped to the panel
    defs.append("clipPath").attr("id", "clip" + i)
        .append("rect").attr("width", panelW).attr("height", panelH);
    const pts = g.append("g").attr("clip-path", `url(#clip${i})`);

    rates[i].forEach((str, s) => {
        const vals = parseRow(str);
        if (vals.length !== ages.length) console.warn(yr, s, vals.length);
        pts.append("g").attr("fill", popColour(s))
            .selectAll("circle")
            .data(ages.map((a, k) => [a, vals[k]]).filter(d => d[1] !== undefined))
            .join("circle")
            .attr("cx", d => x(d[0]))
            .attr("cy", d => isFinite(d[1]) ? y(d[1]) : panelH)
            .attr("r", 3);
    });

    // median line
    const line = d3.line()
        .x(d => x(d[0]))
        .y(d => y(d[1]))
        .curve(d3.curveMonotoneX);
    pts.append("path")
        .datum(medianAges.map((a, k) => [a, medians[i][k]]))
        .attr("d", line)
        .attr("fill", "none")
        .attr("stroke", "#000")
        .attr("stroke-width", 3.6)
        .attr("stroke-linejoin", "round")
        .attr("stroke-linecap", "butt");

    // panel border
    g.append("rect")
        .attr("width", panelW).attr("height", panelH)
        .attr("fill", "none").attr("stroke", "#333333").attr("stroke-width", 2.2);

    // strip
    svg.append("rect")
        .attr("x", px).attr("y", sy)
        .attr("width", panelW).attr("height", stripH)
        .attr("fill", "#D9D9D9").attr("stroke", "#333333").attr("stroke-width", 2.2);
    svg.append("text")
        .attr("x", px + panelW / 2).attr("y", sy + stripH / 2 + 9)
        .attr("text-anchor", "middle")
        .style("font-size", labelSize)
        .attr("fill", "#1A1A1A")
        .text(yr);

    // axes
    if (col === 0) {
        const ax = g.append("g")
            .call(d3.axisLeft(y).tickValues(rateTicks).tickSize(tickLen).tickPadding(6));
        ax.select(".domain").remove();
        ax.selectAll(".tick line").attr("stroke", "#333333").attr("stroke-width", 2.2);
        ax.selectAll(".tick text").attr("fill", "#4D4D4D").style("font-size", labelSize);
    }
    if (row === 1) {
        const ax = g.append("g").attr("transform", `translate(0,${panelH})`)
            .call(d3.axisBottom(x).tickValues(ageTicks).tickSize(tickLen).tickPadding(6));
        ax.select(".domain").remove();
        ax.selectAll(".tick line").attr("stroke", "#333333").attr("stroke-width", 2.2);
        ax.selectAll(".tick text").attr("fill", "#4D4D4D").style("font-size", labelSize);
    }
});

// axis titles
const bodyTop = stripTop[0] + stripH, bodyBottom = stripTop[1] + stripH + panelH;
svg.append("text")
    .attr("x", (colX[0] + colX[1] + panelW) / 2).attr("y", 728)
    .attr("text-anchor", "middle")
    .style("font-size", titleSize)
    .attr("fill", "#000")
    .text("Age");
svg.append("text")
    .attr("transform", `translate(33,${(bodyTop + bodyBottom) / 2}) rotate(-90)`)
    .attr("text-anchor", "middle")
    .style("font-size", titleSize)
    .attr("fill", "#000")
    .text("Log rate");

// legend
const legend = svg.append("g").attr("transform", "translate(1145,0)");
legend.append("text")
    .attr("x", 0).attr("y", 293)
    .style("font-size", titleSize)
    .attr("fill", "#000")
    .text("Interval");
const dashes = [null, "4.5,4.5", "11,6"];
intervalLabels.forEach((lab, k) => {
    const ky = 336 + k * 45;
    legend.append("line")
        .attr("x1", 3).attr("x2", 38)
        .attr("y1", ky).attr("y2", ky)
        .attr("stroke", "#000").attr("stroke-width", 2.4)
        .attr("stroke-dasharray", dashes[k]);
    legend.append("text")
        .attr("x", 61).attr("y", ky + 9)
        .style("font-size", labelSize)
        .attr("fill", "#000")
        .text(lab);
});
</script>
</body>
</html>
